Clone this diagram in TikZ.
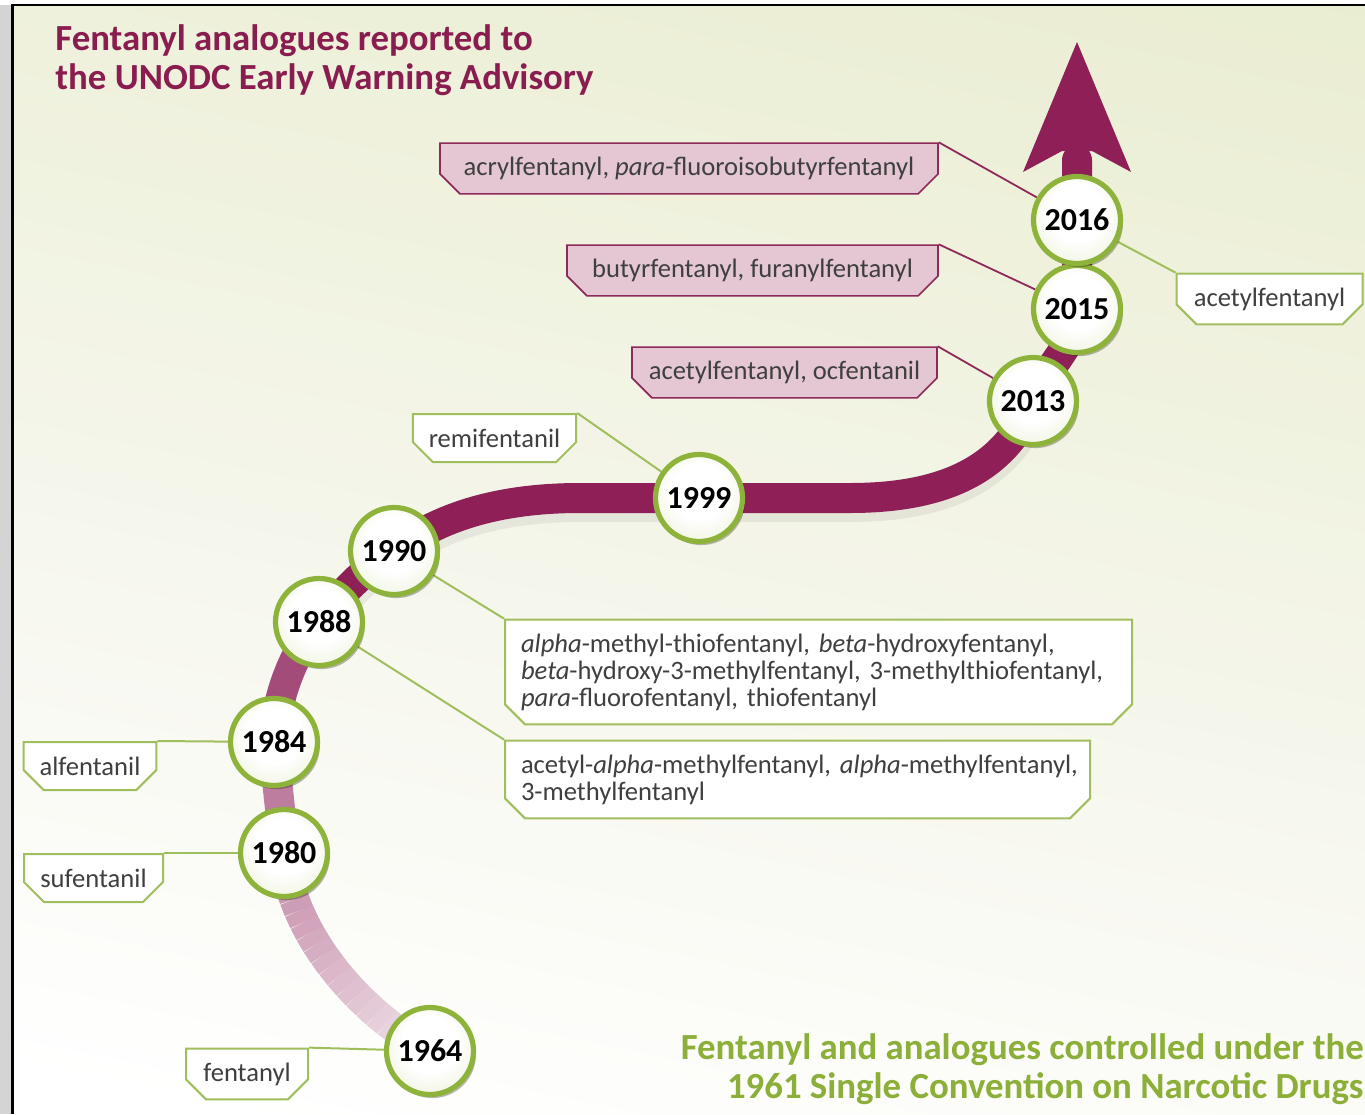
\documentclass[tikz,border=0pt]{standalone}
\usepackage{fontspec}
\setmainfont{Carlito}
\usetikzlibrary{shapes.misc,shadows}
\AtBeginDocument{\frenchspacing}
\definecolor{maroon}{HTML}{8E1F57}
\definecolor{titlered}{HTML}{8A1D50}
\definecolor{ygreen}{HTML}{8DB33A}
\definecolor{tgreen}{HTML}{8BAF38}
\definecolor{lgreen}{HTML}{A0BE5E}
\definecolor{pinkfill}{HTML}{E4C7D3}
\definecolor{pinkline}{HTML}{8E2A5A}
\definecolor{txtgray}{HTML}{3F3F3F}
\definecolor{bgtop}{HTML}{E2E8C0}
\definecolor{bgup}{HTML}{ECEFD6}
\definecolor{bgmid}{HTML}{F5F6EB}
\definecolor{circout}{HTML}{D8E5B2}
\definecolor{framegray}{HTML}{D4D4D4}
\pgfdeclareverticalshading{bgshade}{100bp}{color(0bp)=(white); color(22bp)=(white); color(48bp)=(bgmid); color(74bp)=(bgup); color(100bp)=(bgtop)}
\pgfdeclareradialshading{yearshade}{\pgfpoint{0bp}{6bp}}{color(0bp)=(white); color(16bp)=(white); color(50bp)=(circout)}
\pgfdeclarelayer{back}
\pgfdeclarelayer{mid}
\pgfsetlayers{back,mid,main}
\begin{document}
\begin{tikzpicture}[x=0.5pt,y=-0.5pt,
  yearnode/.style={circle, minimum size=43.5pt, inner sep=0pt, draw=ygreen, line width=2.6pt,
    shade, shading=yearshade, font=\fontsize{16}{18}\selectfont\bfseries, text=black,
    drop shadow={shadow xshift=1.2pt, shadow yshift=-1.8pt, opacity=0.28, fill=black}},
  labelbox/.style={chamfered rectangle, chamfered rectangle corners={south west,south east},
    chamfered rectangle xsep=5pt, chamfered rectangle ysep=5pt, inner xsep=3pt, inner ysep=2pt,
    font=\fontsize{13.3}{13.5}\selectfont, text=txtgray},
  greenbox/.style={labelbox, draw=lgreen, line width=1pt, fill=white},
  pinkbox/.style={labelbox, draw=pinkline, line width=0.8pt, fill=pinkfill},
  gconn/.style={draw=lgreen, line width=1pt},
  pconn/.style={draw=pinkline, line width=0.9pt},
  trail/.style={line width=15pt, line cap=round},
  tailseg/.style={line width=15pt, line cap=butt},
  titletext/.style={inner sep=0pt, font=\fontsize{18.4}{19.5}\selectfont\bfseries}
]
\useasboundingbox (0,0) rectangle (1365,1114);

% year circles
\node[yearnode] (c1964) at (430,1051) {1964};
\node[yearnode] (c1980) at (284,853) {1980};
\node[yearnode] (c1984) at (274,742) {1984};
\node[yearnode] (c1988) at (319,622) {1988};
\node[yearnode] (c1990) at (394,551) {1990};
\node[yearnode] (c1999) at (699,498) {1999};
\node[yearnode] (c2013) at (1033,401) {2013};
\node[yearnode] (c2015) at (1077,309) {2015};
\node[yearnode] (c2016) at (1077,220) {2016};

% label boxes
\node[pinkbox, minimum width=249pt, minimum height=23.5pt] (p2016) at (689,168.5) {acrylfentanyl, \textit{para}-fluoroisobutyrfentanyl};
\node[pinkbox, minimum width=185.5pt, minimum height=23.5pt] (p2015) at (752.5,270.5) {butyrfentanyl, furanylfentanyl};
\node[pinkbox, minimum width=152.5pt, minimum height=23.5pt] (p2013) at (784.5,372.5) {acetylfentanyl, ocfentanil};
\node[greenbox, minimum width=93pt, minimum height=23pt] (g2016) at (1269.5,299) {acetylfentanyl};
\node[greenbox, minimum width=80.5pt, minimum height=24pt] (g1999) at (494.5,438) {remifentanil};
\node[greenbox, minimum width=313.5pt, minimum height=50pt, text width=297.5pt, align=left] (g1990) at (818.5,672)
  {\textit{alpha}-methyl-thiofentanyl, \textit{beta}-hydroxyfentanyl,\\\mbox{\textit{beta}-hydroxy-3-methylfentanyl, 3-methylthiofentanyl,}\\\textit{para}-fluorofentanyl, thiofentanyl};
\node[greenbox, minimum width=292.5pt, minimum height=37.5pt, text width=276.5pt, align=left] (g1988) at (797.5,779.5)
  {\mbox{acetyl-\textit{alpha}-methylfentanyl, \textit{alpha}-methylfentanyl,}\\3-methylfentanyl};
\node[greenbox, minimum width=66pt, minimum height=24pt] (g1984) at (90,766) {alfentanil};
\node[greenbox, minimum width=69.5pt, minimum height=24pt] (g1980) at (93.5,878) {sufentanil};
\node[greenbox, minimum width=61pt, minimum height=24pt] (g1964) at (247,1074) {fentanyl};

% titles
\node[titletext, text=titlered, anchor=north west, align=left] (title) at (55,24)
  {Fentanyl analogues reported to\\the UNODC Early Warning Advisory};
\node[titletext, text=tgreen, anchor=north east, align=right] (convention) at (1364,1033)
  {Fentanyl and analogues controlled under the\\1961 Single Convention on Narcotic Drugs};

% connectors
\begin{pgfonlayer}{mid}
\draw[pconn] (p2016.north east) -- (c2016);
\draw[pconn] (p2015.north east) -- (c2015);
\draw[pconn] (p2013.north east) -- (c2013);
\draw[gconn] (g2016.north west) -- (c2016);
\draw[gconn] (g1999.north east) -- (c1999);
\draw[gconn] (g1990.north west) -- (c1990);
\draw[gconn] (g1988.north west) -- (c1988);
\draw[gconn] (g1984.north east) -- (c1984);
\draw[gconn] (g1980.north east) -- (c1980);
\draw[gconn] (g1964.north east) -- (c1964);
\end{pgfonlayer}

% background, frame and the timeline
\begin{pgfonlayer}{back}
\fill[white] (0,0) rectangle (1365,1114);
\shade[shading=bgshade, shading angle=-12] (13,5) rectangle (1365,1114);
\fill[framegray] (0,5) rectangle (12,1114);
\draw[black, line width=1.5pt] (12.5,4) -- (12.5,1114);
\draw[black, line width=1.2pt] (12,5) -- (1365,5);
% soft shadow of the trail
\draw[line width=18pt, line cap=round, black, opacity=0.06, transform canvas={yshift=-3pt}]
  (c1988.center) .. controls (340,595) and (365,568) .. (c1990.center)
  .. controls (445,512) and (510,498) .. (580,498) -- (c1999.center) -- (850,498)
  .. controls (955,498) and (1008,462) .. (c2013.center);
% faded tail
\path (c1964.center) .. controls (355,1010) and (290,930) .. (c1980.center)
  coordinate[pos=0] (q0) coordinate[pos=0.05] (q1) coordinate[pos=0.1] (q2)
  coordinate[pos=0.15] (q3) coordinate[pos=0.2] (q4) coordinate[pos=0.25] (q5)
  coordinate[pos=0.3] (q6) coordinate[pos=0.35] (q7) coordinate[pos=0.4] (q8)
  coordinate[pos=0.45] (q9) coordinate[pos=0.5] (q10) coordinate[pos=0.55] (q11)
  coordinate[pos=0.6] (q12) coordinate[pos=0.65] (q13) coordinate[pos=0.7] (q14)
  coordinate[pos=0.75] (q15) coordinate[pos=0.8] (q16) coordinate[pos=0.85] (q17)
  coordinate[pos=0.9] (q18) coordinate[pos=0.95] (q19) coordinate[pos=1] (q20);
\foreach \i in {0,...,19}{
  \pgfmathtruncatemacro\j{\i+1}
  \pgfmathtruncatemacro\pct{14+\i*2}
  \draw[tailseg, maroon!\pct!white] (q\i) -- (q\j);
}
\draw[trail, maroon!58!white] (c1980.center) .. controls (281,810) and (276,780) .. (c1984.center);
\draw[trail, maroon!80!white] (c1984.center) .. controls (276,695) and (295,650) .. (c1988.center);
\draw[trail, maroon] (c1988.center) .. controls (340,595) and (365,568) .. (c1990.center)
  .. controls (445,512) and (510,498) .. (580,498) -- (c1999.center) -- (850,498)
  .. controls (955,498) and (1008,462) .. (c2013.center)
  .. controls (1050,360) and (1077,345) .. (c2015.center) -- (1077,160);
\fill[maroon] (1077,42) -- (1131,172) -- (1092,151) -- (1062,151) -- (1023,172) -- cycle;
\end{pgfonlayer}
\end{tikzpicture}
\end{document}
